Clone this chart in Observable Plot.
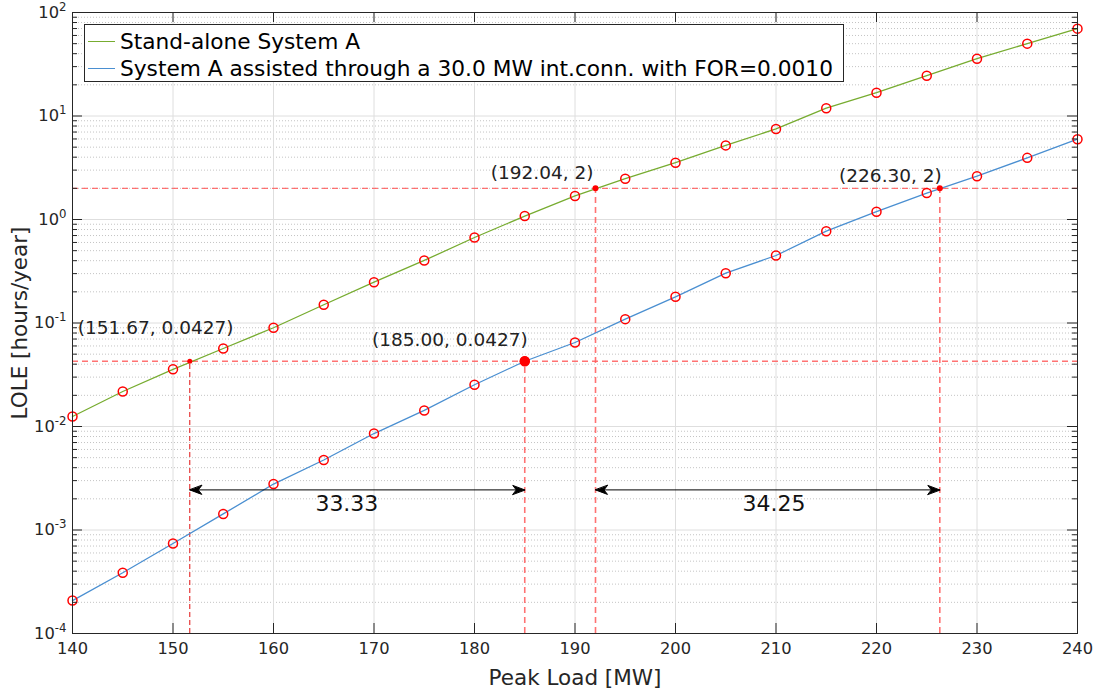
<!DOCTYPE html>
<html><head><meta charset="utf-8">
<script src="https://cdn.jsdelivr.net/npm/d3@7"></script>
<script src="https://cdn.jsdelivr.net/npm/@observablehq/plot@0.6"></script>
<style>
body{margin:0;background:#fff;font-family:"DejaVu Sans",sans-serif;}
#wrap{position:relative;width:1097px;height:691px;}
#legend{position:absolute;left:84px;top:24px;width:760px;height:58px;border:1px solid #262626;background:#fff;font-size:21.7px;color:#000;box-sizing:border-box;padding-top:3px;}
#legend .row{display:flex;align-items:center;height:27px;white-space:nowrap;}
#legend .sw{display:inline-block;width:27px;height:0;margin-left:3px;margin-right:5px;}
g[aria-label="x-axis label"] text, g[aria-label="y-axis label"] text{font-size:21.5px;}
</style></head>
<body><div id="wrap"></div>
<script>
// ---- data ----
const peakLoad = [140,145,150,155,160,165,170,175,180,185,190,195,200,205,210,215,220,225,230,235,240];
const loleStandalone = [0.0125,0.0218,0.0357,0.0567,0.0900,0.150,0.248,0.402,0.670,1.08,1.69,2.48,3.54,5.20,7.50,11.9,16.8,24.5,35.8,50.0,69.8];
const loleAssisted = [0.000208,0.000386,0.000741,0.00143,0.00278,0.00475,0.00855,0.0143,0.0253,0.0427,0.0648,0.109,0.179,0.303,0.449,0.771,1.19,1.80,2.62,3.94,5.97];
const seriesNames = ["Stand-alone System A", "System A assisted through a 30.0 MW int.conn. with FOR=0.0010"];
const markLoad = [151.67, 185.00, 192.04, 226.30];
const markLole = [0.0427, 0.0427, 2, 2];
const markLabels = ["(151.67, 0.0427)", "(185.00, 0.0427)", "(192.04, 2)", "(226.30, 2)"];
const riskLevels = [0.0427, 2];
const gapFrom = [151.67, 192.04];
const gapTo = [185.00, 226.30];
const gapLabels = ["33.33", "34.25"];
const gapLabelLoad = [167.3, 209.8];
const gapLole = 0.00244;
const xTicks = [140,150,160,170,180,190,200,210,220,230,240];
const yDecades = [1e-4,1e-3,1e-2,1e-1,1,10,100];
const xDomain = [140, 240];
const yDomain = [1e-4, 1e2];
const yMinor = yDecades.slice(0, -1).flatMap(d => [2,3,4,5,6,7,8,9].map(k => k * d));

// ---- layout ----
const W = 1097, H = 691, mL = 72, mR = 20, mT = 12, mB = 58;
const pw = W - mL - mR, ph = H - mT - mB;
const idx = peakLoad.map((_, i) => i);
const green = "#77AC30", blue = "#4a8fd1";
const headShape = {draw(ctx) { ctx.moveTo(0, 0); ctx.lineTo(-4.5, 12); ctx.lineTo(0, 8.5); ctx.lineTo(4.5, 12); ctx.closePath(); }};
const lbl = (i, opts) => Plot.text([i], {x: j => markLoad[j], y: j => markLole[j], text: j => markLabels[j], fill: "#222", fontSize: 18.5, ...opts});

const chart = Plot.plot({
  width: W, height: H, marginLeft: mL, marginRight: mR, marginTop: mT, marginBottom: mB,
  style: {fontFamily: '"DejaVu Sans", sans-serif', fontSize: "16.3px", color: "#262626", background: "#fff"},
  x: {domain: xDomain},
  y: {type: "log", domain: yDomain},
  marks: [
    Plot.ruleY(yMinor, {stroke: "#c4c4c4", strokeDasharray: "1,2"}),
    Plot.ruleY(yDecades, {stroke: "#dedede"}),
    Plot.ruleX(xTicks, {stroke: "#dedede"}),
    Plot.ruleY(riskLevels, {stroke: "#ff5a5a", strokeOpacity: 0.85, strokeDasharray: "6,4", strokeWidth: 1.3}),
    Plot.ruleX([0], {x: i => markLoad[i], y1: yDomain[0], y2: i => markLole[i], stroke: "#e01010", strokeDasharray: "5,3", strokeWidth: 1}),
    Plot.ruleX([1,2,3], {x: i => markLoad[i], y1: yDomain[0], y2: i => markLole[i], stroke: "#ff5a5a", strokeOpacity: 0.85, strokeDasharray: "6,4", strokeWidth: 1.6}),
    Plot.line(idx, {x: i => peakLoad[i], y: i => loleStandalone[i], stroke: green, strokeWidth: 1.3}),
    Plot.line(idx, {x: i => peakLoad[i], y: i => loleAssisted[i], stroke: blue, strokeWidth: 1.3}),
    Plot.dot(idx, {x: i => peakLoad[i], y: i => loleStandalone[i], r: 4.5, stroke: "#ff0000", strokeWidth: 1.5, fill: "none"}),
    Plot.dot(idx, {x: i => peakLoad[i], y: i => loleAssisted[i], r: 4.5, stroke: "#ff0000", strokeWidth: 1.5, fill: "none"}),
    Plot.dot([0], {x: i => markLoad[i], y: i => markLole[i], r: 2.5, fill: "#ff0000"}),
    Plot.dot([1], {x: i => markLoad[i], y: i => markLole[i], r: 5, fill: "#ff0000"}),
    Plot.dot([2,3], {x: i => markLoad[i], y: i => markLole[i], r: 3, fill: "#ff0000"}),
    lbl(0, {textAnchor: "start", dx: -112, dy: -33}),
    lbl(1, {textAnchor: "end", dx: 3, dy: -21}),
    lbl(2, {textAnchor: "end", dx: -2, dy: -15}),
    lbl(3, {textAnchor: "end", dx: 2, dy: -12}),
    Plot.link([0,1], {x1: i => gapFrom[i], x2: i => gapTo[i], y1: gapLole, y2: gapLole, stroke: "#000", strokeWidth: 1}),
    Plot.vector([0,1], {x: i => gapFrom[i], y: gapLole, rotate: -90, anchor: "start", length: 12, shape: headShape, fill: "#000", stroke: "#000", strokeWidth: 1}),
    Plot.vector([0,1], {x: i => gapTo[i], y: gapLole, rotate: 90, anchor: "start", length: 12, shape: headShape, fill: "#000", stroke: "#000", strokeWidth: 1}),
    Plot.text([0,1], {x: i => gapLabelLoad[i], y: gapLole, text: i => gapLabels[i], dy: 14, fontSize: 22, fill: "#111"}),
    Plot.frame({stroke: "#262626"}),
    Plot.tickY(yDecades, {y: d => d, insetRight: pw - 10, stroke: "#262626"}),
    Plot.tickY(yDecades, {y: d => d, insetLeft: pw - 10, stroke: "#262626"}),
    Plot.tickY(yMinor, {y: d => d, insetRight: pw - 5, stroke: "#262626"}),
    Plot.tickY(yMinor, {y: d => d, insetLeft: pw - 5, stroke: "#262626"}),
    Plot.tickX(xTicks, {x: d => d, insetTop: ph - 10, stroke: "#262626"}),
    Plot.tickX(xTicks, {x: d => d, insetBottom: ph - 10, stroke: "#262626"}),
    Plot.axisX({ticks: xTicks, tickSize: 0, tickPadding: 9, tickFormat: d => String(d), label: "Peak Load [MW]", labelAnchor: "center", labelArrow: "none", labelOffset: 51}),
    Plot.axisY({ticks: yDecades, tickSize: 0, tickPadding: 6, tickFormat: d => "10^" + Math.round(Math.log10(d)), label: "LOLE [hours/year]", labelAnchor: "center", labelArrow: "none", labelOffset: 61})
  ]
});

d3.select(chart).selectAll('g[aria-label="y-axis tick label"] text').each(function() {
  const t = d3.select(this);
  const parts = t.text().split("^");
  if (parts.length === 2) {
    t.text(parts[0]);
    t.append("tspan").attr("dy", "-0.6em").attr("font-size", "0.72em").text(parts[1]);
  }
});

const wrap = document.getElementById("wrap");
wrap.appendChild(chart);
const legend = document.createElement("div");
legend.id = "legend";
[[green, seriesNames[0]], [blue, seriesNames[1]]].forEach(([c, name]) => {
  const row = document.createElement("div");
  row.className = "row";
  const sw = document.createElement("span");
  sw.className = "sw";
  sw.style.borderTop = "1.3px solid " + c;
  const tx = document.createElement("span");
  tx.textContent = name;
  row.appendChild(sw); row.appendChild(tx);
  legend.appendChild(row);
});
wrap.appendChild(legend);
</script>
</body></html>
